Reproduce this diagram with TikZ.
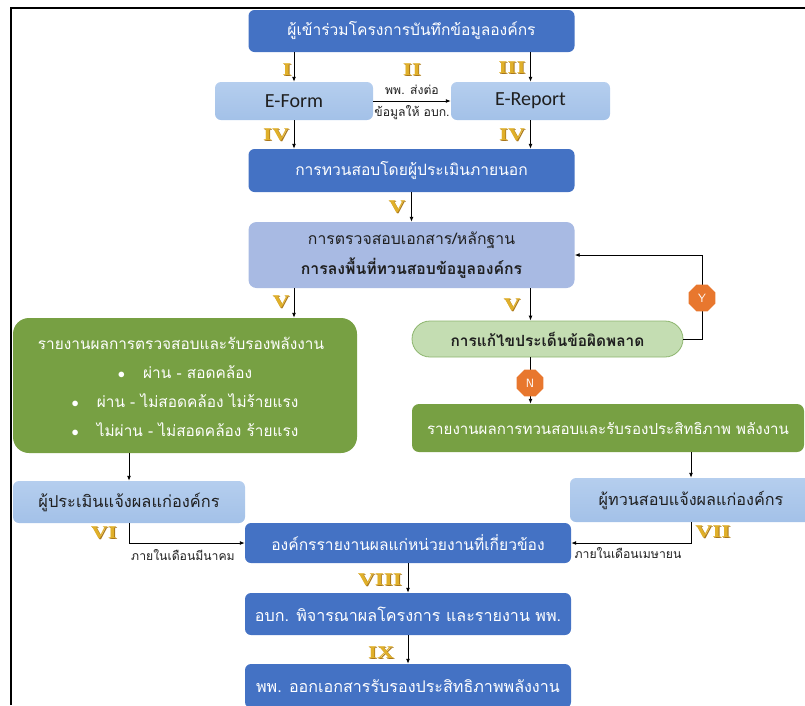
\documentclass[tikz,border=0pt]{standalone}
\usepackage{fontspec}
\setmainfont{Carlito}
\newfontfamily\thai[Script=Thai]{Loma}
\newfontfamily\romanf{Liberation Serif}
\usetikzlibrary{shapes.geometric,arrows.meta}
\definecolor{dblue}{HTML}{4472C4}
\definecolor{lblue}{HTML}{A3C1E8}
\definecolor{lblueT}{HTML}{B5CEEE}
\definecolor{pblue}{HTML}{A8BAE3}
\definecolor{ogreen}{HTML}{77A043}
\definecolor{pgreen}{HTML}{C4DDB2}
\definecolor{pgreenD}{HTML}{8DB56E}
\definecolor{orng}{HTML}{E8772E}
\definecolor{gold}{HTML}{E0B02A}
\definecolor{goldD}{HTML}{A8761A}
\definecolor{tdark}{HTML}{1F1F1F}
\newcommand{\goldlab}[1]{\scalebox{1.3}[1]{\makebox[0pt][l]{\hspace{0.7pt}\raisebox{-0.7pt}{\textcolor{goldD}{#1}}}\textcolor{gold}{#1}}}
\tikzset{
  dbox/.style={fill=dblue, rounded corners=6pt, text=white, inner sep=0pt,
    font=\thai\fontsize{15.6}{18}\selectfont},
  lbox/.style={top color=lblueT, bottom color=lblue, rounded corners=6pt, text=tdark, inner sep=0pt,
    font=\thai\fontsize{15.6}{18}\selectfont},
  gbox/.style={fill=ogreen, text=white, inner sep=0pt, font=\thai\fontsize{15.6}{18}\selectfont},
  gtext/.style={text=white, font=\thai\fontsize{15.4}{18}\selectfont, inner sep=0pt},
  arr/.style={-{Latex[length=5pt,width=4pt]}, line width=0.9pt, black},
  roman/.style={font=\romanf\bfseries\fontsize{18}{18}\selectfont, inner sep=0pt},
  small/.style={text=tdark, font=\thai\fontsize{12.2}{14}\selectfont, inner sep=0pt},
  oct/.style={regular polygon, regular polygon sides=8, fill=orng, text=white, inner sep=0pt,
    minimum size=29pt, font=\sffamily\fontsize{12}{12}\selectfont},
}
\begin{document}
\begin{tikzpicture}[x=1pt,y=-1pt]
\useasboundingbox (0,0) rectangle (805,705);
% frame
\draw[line width=2pt] (11,705) -- (11,8) -- (805,8);
% boxes
\node[dbox, minimum width=326, minimum height=42] (b1) at (411.5,31) {ผู้เข้าร่วมโครงการบันทึกข้อมูลองค์กร};
\node[lbox, minimum width=158, minimum height=38, font=\fontsize{20}{20}\selectfont] (ef) at (294,101) {E-Form};
\node[lbox, minimum width=159, minimum height=38, font=\fontsize{20}{20}\selectfont] (er) at (530.5,101) {E-Report};
\node[dbox, minimum width=326, minimum height=43] (b3) at (411.5,170.5) {การทวนสอบโดยผู้ประเมินภายนอก};
\node[fill=pblue, rounded corners=8pt, inner sep=0pt, minimum width=326, minimum height=66, align=center,
  text=tdark, font=\thai\fontsize{15.8}{30}\selectfont] (b4) at (411.5,255)
  {การตรวจสอบเอกสาร/หลักฐาน\\\bfseries การลงพื้นที่ทวนสอบข้อมูลองค์กร};
\node[gbox, rounded corners=16pt, minimum width=344, minimum height=135] (g1) at (185,385.5) {};
\node[gtext] (g1t) at (181,343) {รายงานผลการตรวจสอบและรับรองพลังงาน};
\node[gtext] (g1a) at (185,372) {$\bullet$\hspace{18pt}ผ่าน - สอดคล้อง};
\node[gtext] (g1b) at (185,401) {$\bullet$\hspace{18pt}ผ่าน - ไม่สอดคล้อง ไม่ร้ายแรง};
\node[gtext] (g1c) at (185,430) {$\bullet$\hspace{18pt}ไม่ผ่าน - ไม่สอดคล้อง ร้ายแรง};
\node[fill=pgreen, draw=pgreenD, line width=0.8pt, rounded corners=18pt, inner sep=0pt, minimum width=271, minimum height=36,
  text=tdark, font=\thai\bfseries\fontsize{15.4}{18}\selectfont] (pill) at (547.5,339) {การแก้ไขประเด็นข้อผิดพลาด};
\node[gbox, rounded corners=7pt, minimum width=392, minimum height=48, font=\thai\fontsize{15.1}{18}\selectfont] (g2) at (608,428) {รายงานผลการทวนสอบและรับรองประสิทธิภาพ พลังงาน};
\node[lbox, minimum width=232, minimum height=42, font=\thai\fontsize{16.4}{18}\selectfont] (lb) at (129,502) {ผู้ประเมินแจ้งผลแก่องค์กร};
\node[lbox, minimum width=242, minimum height=44, font=\thai\fontsize{16.2}{18}\selectfont] (rb) at (691,500) {ผู้ทวนสอบแจ้งผลแก่องค์กร};
\node[dbox, minimum width=326, minimum height=40] (org) at (408,543) {องค์กรรายงานผลแก่หน่วยงานที่เกี่ยวข้อง};
\node[dbox, minimum width=326, minimum height=42, font=\thai\fontsize{16.1}{18}\selectfont] (b8) at (408,614) {อบก. พิจารณาผลโครงการ และรายงาน พพ.};
\node[dbox, minimum width=326, minimum height=44, font=\thai\fontsize{16.1}{18}\selectfont] (b9) at (408,686) {พพ. ออกเอกสารรับรองประสิทธิภาพพลังงาน};
% connectors
\draw[arr] (b1.south -| ef.north) -- (ef.north);
\draw[arr] (b1.south -| er.north) -- (er.north);
\draw[arr] (ef.east) -- (er.west);
\draw[arr] (ef.south) -- (ef.south |- b3.north);
\draw[arr] (er.south) -- (er.south |- b3.north);
\draw[arr] (b3.south) -- (b4.north);
\draw[arr] (b4.south -| ef.south) -- (g1.north -| ef.south);
\draw[arr] (b4.south -| er.south) -- (pill.north -| er.south);
\coordinate (yc) at (702,339);
\draw[arr] (pill.east) -- (yc) |- (b4.east);
\draw[arr] (pill.south -| er.south) -- (g2.north -| er.south);
\draw[arr] (g1.south -| lb.north) -- (lb.north);
\draw[arr] (g2.south -| rb.north) -- (rb.north);
\draw[arr] (lb.south) |- (org.west);
\draw[arr] (rb.south) |- (org.east);
\draw[arr] (org.south) -- (b8.north);
\draw[arr] (b8.south) -- (b9.north);
% octagons
\node[oct] (ny) at (702,298) {Y};
\node[oct] (nn) at (530,383) {N};
% labels
\node[roman] (l1) at (287,70) {\goldlab{I}};
\node[roman] (l2) at (412,70) {\goldlab{II}};
\node[roman] (l3) at (512,68) {\goldlab{III}};
\node[roman] (l4a) at (276,135) {\goldlab{IV}};
\node[roman] (l4b) at (512,135) {\goldlab{IV}};
\node[roman] (l5) at (397,207) {\goldlab{V}};
\node[roman] (l5a) at (281,302) {\goldlab{V}};
\node[roman] (l5b) at (512,305) {\goldlab{V}};
\node[roman] (l6) at (104,533) {\goldlab{VI}};
\node[roman] (l7) at (713,532) {\goldlab{VII}};
\node[roman] (l8) at (380,580) {\goldlab{VIII}};
\node[roman] (l9) at (381,653) {\goldlab{IX}};
\node[small] (s1) at (412,90) {พพ. ส่งต่อ};
\node[small] (s2) at (412,113) {ข้อมูลให้ อบก.};
\node[small] (s3) at (183,555) {ภายในเดือนมีนาคม};
\node[small] (s4) at (628,553) {ภายในเดือนเมษายน};
\end{tikzpicture}
\end{document}
